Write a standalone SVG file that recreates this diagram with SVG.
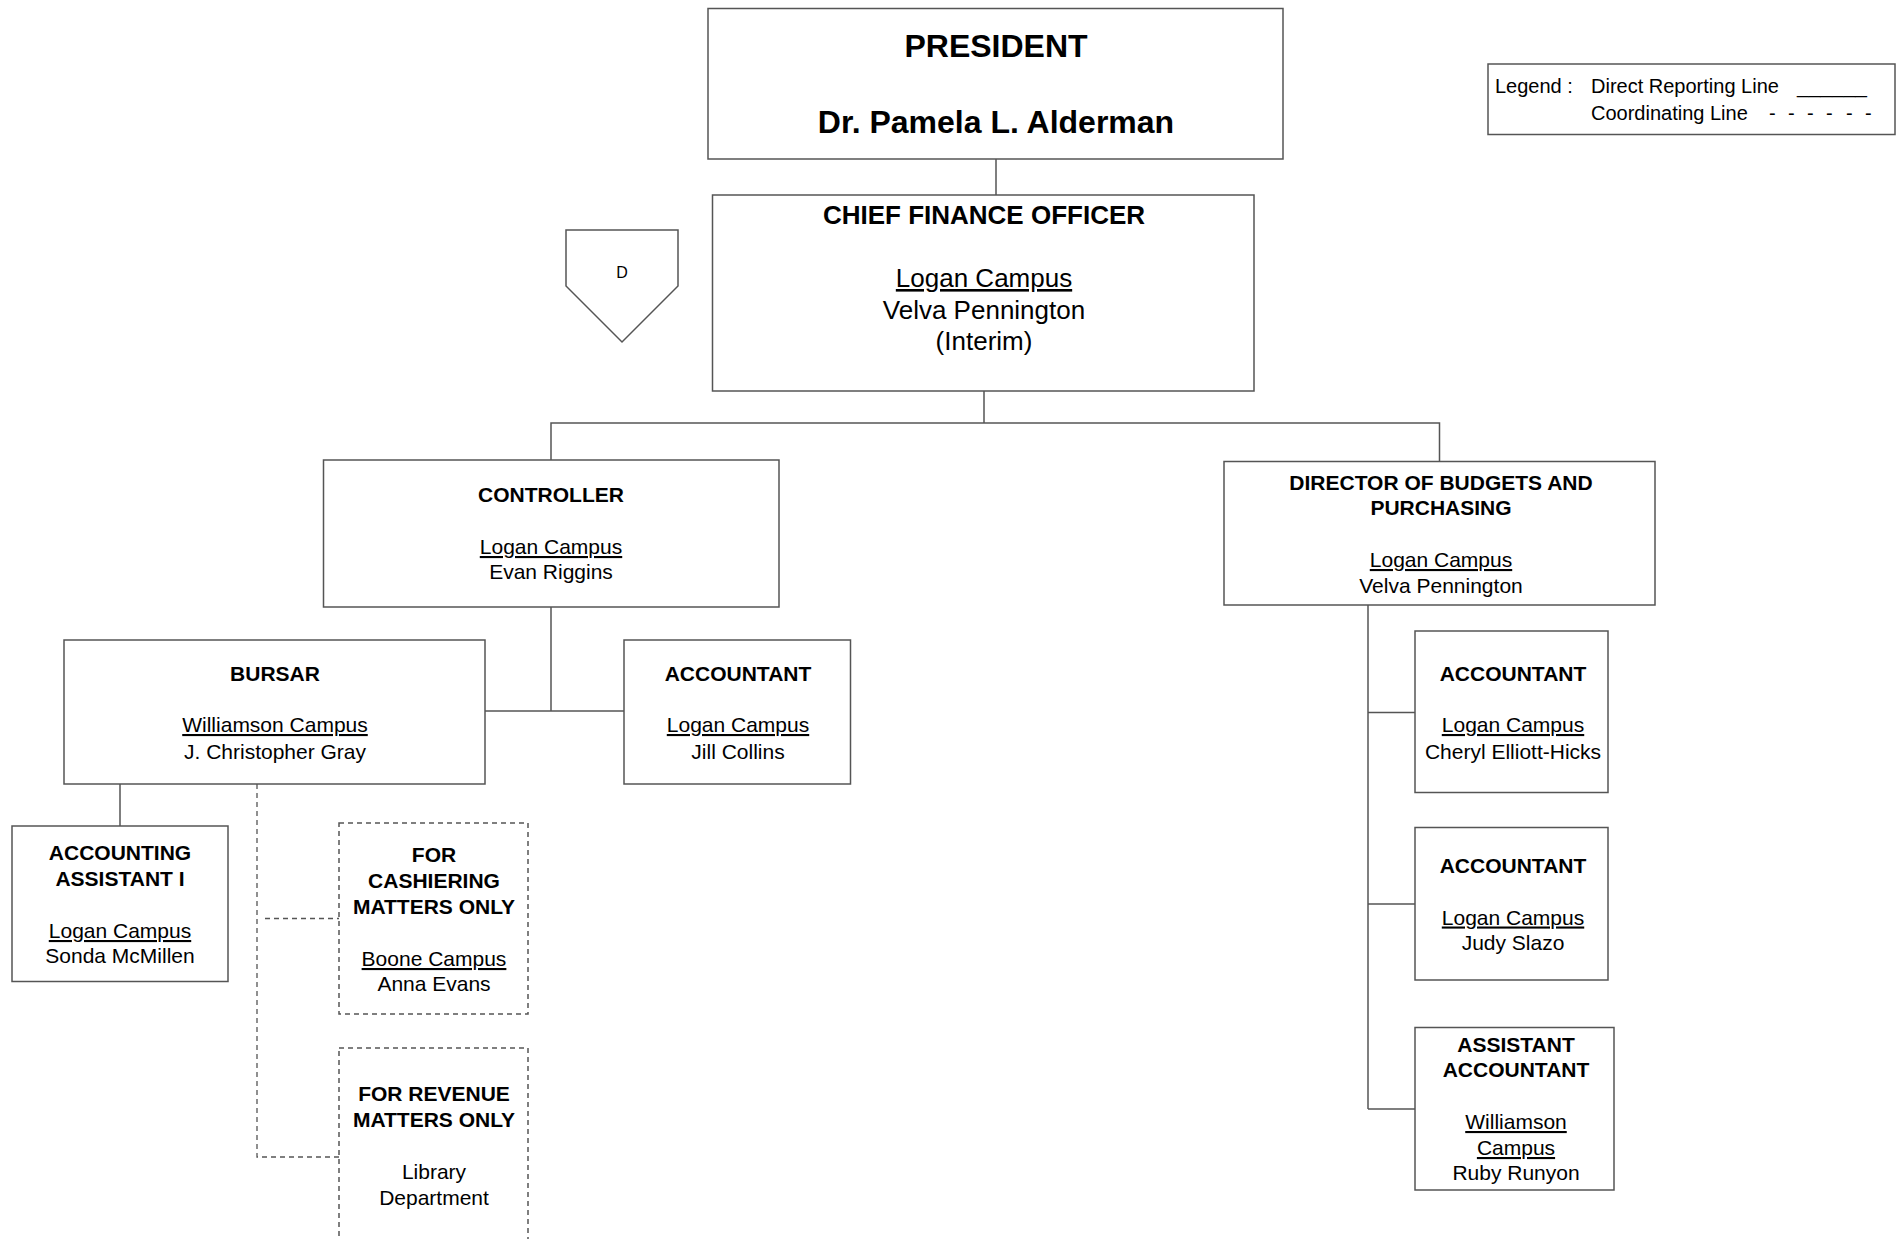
<svg xmlns="http://www.w3.org/2000/svg" width="1900" height="1239" viewBox="0 0 1900 1239">
<style>
.box{fill:#fff;stroke:#555;stroke-width:1.5}
.dbox{fill:#fff;stroke:#555;stroke-width:1.5;stroke-dasharray:5,4}
.ln{fill:none;stroke:#555;stroke-width:1.5}
.dl{fill:none;stroke:#555;stroke-width:1.3;stroke-dasharray:5,4}
text{font-family:"Liberation Sans",Arial,sans-serif;fill:#000;text-anchor:middle}
.t{font-size:21px;font-weight:bold}
.n{font-size:21px}
.u{font-size:21px;text-decoration:underline}
.big{font-size:32px;font-weight:bold}
.cfo{font-size:26px;font-weight:bold}
.cfon{font-size:26px}
.cfou{font-size:26px;text-decoration:underline}
.leg{font-size:20px;text-anchor:start}
</style>
<rect width="1900" height="1239" fill="#fff"/>
<g id="connectors">
<line class="ln" x1="996" y1="159" x2="996" y2="195"/>
<line class="ln" x1="984" y1="391" x2="984" y2="423"/>
<polyline class="ln" points="551,460 551,423 1439.5,423 1439.5,461"/>
<line class="ln" x1="551" y1="607" x2="551" y2="711"/>
<line class="ln" x1="485" y1="711" x2="624" y2="711"/>
<line class="ln" x1="120" y1="784" x2="120" y2="826"/>
<polyline class="dl" points="257,784 257,1157 339,1157"/>
<line class="dl" x1="265" y1="918.5" x2="339" y2="918.5"/>
<line class="ln" x1="1368" y1="605" x2="1368" y2="1109"/>
<line class="ln" x1="1368" y1="712.5" x2="1415" y2="712.5"/>
<line class="ln" x1="1368" y1="904" x2="1415" y2="904"/>
<line class="ln" x1="1368" y1="1109" x2="1415" y2="1109"/>
</g>
<g id="legend">
<rect class="box" x="1488" y="64" width="407" height="70.5"/>
<text class="leg" x="1495" y="93">Legend :</text>
<text class="leg" x="1591" y="93">Direct Reporting Line</text>
<text class="leg" x="1797" y="93" textLength="70" lengthAdjust="spacingAndGlyphs">______</text>
<text class="leg" x="1591" y="120">Coordinating Line</text>
<text class="leg" x="1769 1788 1807 1826 1846 1865" y="120">------</text>
</g>
<g id="president">
<rect class="box" x="708" y="8.5" width="575" height="150.5"/>
<text class="big" x="996" y="57">PRESIDENT</text>
<text class="big" x="996" y="133">Dr. Pamela L. Alderman</text>
</g>
<g id="cfo">
<rect class="box" x="712.5" y="195" width="541.5" height="196"/>
<text class="cfo" x="984" y="224">CHIEF FINANCE OFFICER</text>
<text class="cfou" x="984" y="287">Logan Campus</text>
<text class="cfon" x="984" y="319">Velva Pennington</text>
<text class="cfon" x="984" y="350">(Interim)</text>
</g>
<g id="d-marker">
<polygon class="box" points="566,230 678,230 678,286 622,342 566,286"/>
<text x="622" y="278" style="font-size:16px">D</text>
</g>
<g id="controller">
<rect class="box" x="323.5" y="460" width="455.5" height="147"/>
<text class="t" x="551" y="502">CONTROLLER</text>
<text class="u" x="551" y="554">Logan Campus</text>
<text class="n" x="551" y="579">Evan Riggins</text>
</g>
<g id="director">
<rect class="box" x="1224" y="461.5" width="431" height="143.5"/>
<text class="t" x="1441" y="489.5">DIRECTOR OF BUDGETS AND</text>
<text class="t" x="1441" y="515">PURCHASING</text>
<text class="u" x="1441" y="567">Logan Campus</text>
<text class="n" x="1441" y="592.5">Velva Pennington</text>
</g>
<g id="bursar">
<rect class="box" x="64" y="640" width="421" height="144"/>
<text class="t" x="275" y="681">BURSAR</text>
<text class="u" x="275" y="732">Williamson Campus</text>
<text class="n" x="275" y="758.5">J. Christopher Gray</text>
</g>
<g id="accountant-collins">
<rect class="box" x="624" y="640" width="226.5" height="144"/>
<text class="t" x="738" y="681">ACCOUNTANT</text>
<text class="u" x="738" y="732">Logan Campus</text>
<text class="n" x="738" y="758.5">Jill Collins</text>
</g>
<g id="accounting-assistant">
<rect class="box" x="12" y="826" width="216" height="155.5"/>
<text class="t" x="120" y="860">ACCOUNTING</text>
<text class="t" x="120" y="886">ASSISTANT I</text>
<text class="u" x="120" y="938">Logan Campus</text>
<text class="n" x="120" y="963">Sonda McMillen</text>
</g>
<g id="cashiering">
<rect class="dbox" x="339" y="823" width="189" height="191"/>
<text class="t" x="434" y="861.5">FOR</text>
<text class="t" x="434" y="888">CASHIERING</text>
<text class="t" x="434" y="913.5">MATTERS ONLY</text>
<text class="u" x="434" y="966">Boone Campus</text>
<text class="n" x="434" y="991">Anna Evans</text>
</g>
<g id="revenue">
<rect class="dbox" x="339" y="1048" width="189" height="220"/>
<text class="t" x="434" y="1101">FOR REVENUE</text>
<text class="t" x="434" y="1127">MATTERS ONLY</text>
<text class="n" x="434" y="1179">Library</text>
<text class="n" x="434" y="1204.5">Department</text>
</g>
<g id="accountant-elliott-hicks">
<rect class="box" x="1415" y="631" width="193" height="161.5"/>
<text class="t" x="1513" y="681">ACCOUNTANT</text>
<text class="u" x="1513" y="732">Logan Campus</text>
<text class="n" x="1513" y="758.5">Cheryl Elliott-Hicks</text>
</g>
<g id="accountant-slazo">
<rect class="box" x="1415" y="827.5" width="193" height="152.5"/>
<text class="t" x="1513" y="872.5">ACCOUNTANT</text>
<text class="u" x="1513" y="924.5">Logan Campus</text>
<text class="n" x="1513" y="950">Judy Slazo</text>
</g>
<g id="assistant-accountant">
<rect class="box" x="1415" y="1027.5" width="199" height="162.5"/>
<text class="t" x="1516" y="1052">ASSISTANT</text>
<text class="t" x="1516" y="1077">ACCOUNTANT</text>
<text class="u" x="1516" y="1129">Williamson</text>
<text class="u" x="1516" y="1155">Campus</text>
<text class="n" x="1516" y="1180">Ruby Runyon</text>
</g>
</svg>
